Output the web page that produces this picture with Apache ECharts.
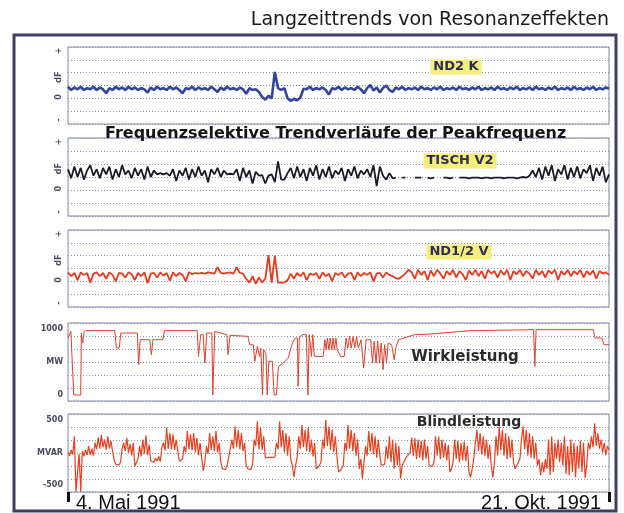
<!DOCTYPE html>
<html>
<head>
<meta charset="utf-8">
<script src="https://cdn.jsdelivr.net/npm/echarts@6/dist/echarts.min.js"></script>
<style>
  html, body { margin: 0; padding: 0; background: #ffffff; }
  #chart { width: 624px; height: 513px; }
</style>
</head>
<body>
<div id="chart"></div>
<script>
// Zeitachse: Tage ab 4. Mai 1991 (0) bis 21. Okt. 1991 (170)
var zeitMax = 170;
var datumLabels = ['4. Mai 1991', '21. Okt. 1991'];

// Peakfrequenz-Abweichung dF, ein Wert pro Tag (Skala -3 .. +3)
var nd2k = [
  -0.1,-0.35,-0.15,-0.3,-0.1,-0.35,-0.2,-0.3,-0.1,-0.35,
  -0.15,-0.3,-0.6,-0.2,-0.35,-0.1,-0.3,-0.15,-0.35,-0.1,
  -0.3,-0.15,-0.35,-0.2,-0.3,-0.55,-0.15,-0.35,-0.1,-0.3,
  -0.2,-0.35,-0.1,-0.3,-0.15,-0.35,-0.6,-0.2,-0.3,-0.1,
  -0.35,-0.15,-0.3,-0.2,-0.35,-0.1,-0.3,-0.5,-0.15,-0.35,
  -0.1,-0.3,-0.2,-0.35,-0.15,-0.3,-0.65,-0.2,-0.35,-0.3,
  -0.5,-0.9,-1.1,-0.8,-1.0,1.05,-0.2,-0.35,-0.2,-1.0,
  -1.2,-1.05,-1.15,-0.95,-0.25,-0.3,-0.1,-0.35,-0.2,-0.3,
  -0.15,-0.35,-0.7,-0.2,-0.3,-0.1,-0.35,-0.15,-0.3,-0.2,
  -0.35,-0.1,-0.3,-0.6,-0.2,0.05,-0.4,-0.15,-0.55,-0.2,
  0.0,-0.35,-0.5,-0.15,-0.3,-0.1,-0.35,-0.2,-0.3,-0.15,
  -0.35,-0.1,-0.3,-0.2,-0.35,-0.15,-0.3,-0.1,-0.35,-0.2,
  -0.3,-0.15,-0.35,-0.1,-0.3,-0.2,-0.35,-0.15,-0.3,-0.1,
  -0.35,-0.2,-0.3,-0.15,-0.35,-0.1,-0.3,-0.2,-0.35,-0.15,
  -0.3,-0.1,-0.35,-0.2,-0.3,-0.15,-0.35,-0.1,-0.3,-0.2,
  -0.35,-0.15,-0.3,-0.1,-0.35,-0.2,-0.3,-0.15,-0.35,-0.1,
  -0.3,-0.2,-0.35,-0.15,-0.3,-0.1,-0.35,-0.2,-0.3,-0.15,
  -0.25
];
var tischV2 = [
  0.6,-0.1,0.8,0.0,0.7,-0.2,0.5,0.9,0.1,0.6,
  -0.1,0.7,0.2,0.8,-0.2,0.6,0.0,0.9,0.2,0.5,
  -0.1,0.7,0.1,0.6,-0.2,0.8,0.0,0.5,0.2,0.3,
  0.2,0.3,0.1,0.6,-0.3,0.5,0.1,0.7,-0.2,0.6,
  0.0,0.8,0.1,0.5,-0.4,0.6,0.2,0.7,0.0,0.5,
  0.2,0.25,0.2,0.6,-0.3,0.7,0.0,0.5,-0.5,0.4,
  0.1,0.15,-0.5,0.1,0.2,-0.4,1.2,-0.2,-0.2,0.3,
  0.7,-0.1,0.8,0.0,0.6,-0.3,0.7,0.1,0.9,-0.2,
  0.6,0.0,0.8,-0.1,0.5,0.2,0.7,-0.3,0.6,0.1,
  0.8,-0.1,0.5,0.2,0.6,0.0,0.9,-0.7,0.8,0.1,
  -0.2,0.3,-0.1,-0.05,null,-0.05,-0.05,null,null,-0.05,
  -0.05,-0.05,null,-0.05,-0.1,-0.05,null,null,-0.05,-0.05,
  -0.1,-0.05,null,-0.05,-0.05,-0.05,-0.1,-0.05,-0.05,-0.05,
  -0.1,-0.05,-0.05,-0.1,-0.05,-0.05,-0.05,-0.1,-0.05,-0.05,
  -0.05,-0.1,-0.05,0.0,-0.05,0.1,0.5,0.0,0.7,-0.2,
  0.8,0.1,0.9,-0.3,0.6,0.2,0.9,-0.2,0.7,0.0,
  0.8,-0.1,0.6,0.3,0.9,-0.3,0.7,0.1,0.8,-0.4,
  0.2
];
var nd12v = [
  -0.3,-0.6,-0.35,-0.9,-0.3,-0.5,-0.35,-1.1,-0.4,-0.3,
  -0.6,-0.35,-0.8,-0.3,-0.5,-1.0,-0.35,-0.4,-0.7,-0.3,
  -0.45,-0.9,-0.35,-0.6,-0.3,-1.15,-0.4,-0.35,-0.7,-0.3,
  -0.55,-0.35,-0.95,-0.3,-0.6,-0.35,-0.5,-1.0,-0.3,-0.45,
  -0.35,-0.4,-0.35,-0.4,-0.3,-0.35,-0.4,0.1,-0.35,-0.4,
  -0.35,-0.3,-0.4,0.1,-0.35,-0.4,-0.8,-1.1,-0.6,-1.2,
  -0.7,-1.1,-0.8,1.05,-1.1,1.0,-1.1,-1.1,-1.1,-0.9,
  -0.4,-0.8,-0.35,-0.6,-0.3,-0.9,-0.4,-0.5,-0.35,-0.8,
  -0.3,-0.6,-0.4,-1.0,-0.35,-0.5,-0.3,-0.7,-0.4,-0.35,
  -0.9,-0.3,-0.6,-0.35,-0.5,-0.3,-1.0,-0.4,-0.35,-0.7,
  -0.3,-0.5,-0.6,-0.75,-0.8,-0.6,-0.4,-0.1,-0.3,-0.8,
  -0.1,-0.5,-0.2,-0.9,-0.15,-0.6,-0.1,-0.4,-0.8,-0.2,
  -0.5,-0.1,-0.7,-0.2,-0.45,-0.9,-0.15,-0.5,-0.1,-0.6,
  -0.2,-0.8,-0.1,-0.4,-0.2,-0.7,-0.15,-0.5,-0.1,-0.9,
  -0.2,-0.45,-0.1,-0.6,-0.2,-0.4,-0.8,-0.1,-0.5,-0.2,
  -0.7,-0.15,-0.4,-0.1,-0.9,-0.2,-0.5,-0.1,-0.6,-0.2,
  -0.45,-0.1,-0.7,-0.2,-0.5,-0.15,-0.8,-0.2,-0.4,-0.3,
  -0.5
];

// Wirkleistung in MW an Stuetzstellen (Tag)
var wirkTage = [0,0.9,1.5,1.8,4.0,4.2,4.6,5.1,5.8,14.7,15.2,16.1,16.6,21.8,22.2,22.7,25.7,26.2,26.7,29.8,
  30.3,40.6,41.0,41.7,42.5,43.0,43.6,45.2,45.5,46.1,49.9,50.3,50.9,56.5,57.1,58.2,58.7,59.5,60.2,60.6,
  61.1,61.5,62.2,62.6,63.1,64.2,64.8,65.5,66.1,67.6,69.2,70.5,71.4,72.1,72.3,72.7,73.6,74.9,75.4,75.8,
  76.5,76.9,77.4,77.8,80.2,80.7,81.1,81.5,82.0,82.4,82.9,83.3,83.7,84.2,84.6,85.7,86.8,87.4,87.9,88.5,
  89.0,89.6,90.1,90.7,91.2,92.1,92.9,93.7,95.1,95.7,96.2,96.8,97.3,97.9,98.4,99.0,99.5,100.1,100.6,101.7,
  102.5,103.1,103.9,108.9,113.8,119.9,126.5,146.3,146.7,147.1,165.1,165.6,167.8,168.4,170];
var wirkMW = [863,964,964,0,0,939,787,964,975,975,711,711,939,939,459,838,838,610,838,838,
  975,975,585,914,914,484,939,939,0,964,914,610,904,889,762,762,509,737,585,711,
  0,686,636,0,509,509,0,0,433,484,560,787,863,863,130,863,914,914,0,914,
  585,914,585,585,585,838,686,863,686,863,686,863,686,863,686,585,585,863,711,889,
  711,889,711,889,711,838,408,838,838,484,813,484,813,484,787,383,762,484,787,762,
  534,737,838,914,924,949,975,990,433,990,990,863,863,762,762];

// Blindleistung in MVAR, zwei Werte pro Tag
var blindMVAR = [
  0,-50,40,-30,250,-600,-600,-20,-600,20,
  -60,40,-40,100,-40,60,-50,150,50,230,
  60,270,80,200,40,250,60,180,20,-120,
  -180,-160,-190,-150,60,150,20,220,0,130,
  -40,150,-210,-180,-100,100,-60,200,-20,260,
  -40,120,-130,-100,-150,-90,-130,-60,-140,80,
  150,30,380,60,300,50,280,40,200,20,
  -130,-150,-100,100,0,330,50,280,30,300,
  0,220,-40,150,-80,-280,-150,100,-20,300,
  40,250,20,330,0,150,-140,-250,-230,-260,
  -200,-180,60,200,60,400,80,350,50,300,
  20,150,-200,-250,-220,-260,-180,200,100,480,
  50,380,40,250,-80,-70,-75,-75,-75,-75,
  -70,150,50,480,80,350,0,300,-50,250,
  -100,-200,-380,-200,-80,250,60,420,80,350,
  20,380,0,200,-60,150,-250,-280,-200,-150,
  200,60,500,100,400,40,350,0,250,-50,
  -300,-280,-250,-200,150,30,420,60,350,20,
  300,-50,200,-250,-100,-400,-150,100,-50,330,
  20,300,-30,250,-80,200,-50,-200,-220,-180,
  100,-100,250,-150,200,-250,150,-200,100,-400,
  -200,-150,-100,-60,-30,0,230,-50,220,-100,
  200,-80,180,-120,200,-100,100,-200,-180,-210,
  -150,250,-50,240,-100,200,-80,150,-120,120,
  -300,-250,-150,200,-100,180,-150,150,-120,170,
  -130,100,-300,-380,-250,-100,150,350,20,300,
  -30,250,-50,200,-100,120,-200,-380,-150,250,
  -50,400,30,350,-50,300,-100,250,-80,200,
  -150,-250,-200,-230,-100,200,400,50,350,-50,
  300,-80,250,-100,150,-200,-100,-350,-150,-300,
  -100,-250,200,-350,250,-300,150,-100,200,-150,
  150,-200,250,-330,100,-350,200,-300,150,-380,
  100,-250,180,-300,150,-390,-200,150,50,250,
  80,450,100,300,60,200,0,150,-40,100,40
];

// Beschriftungen der Achsen
var dfWerte = [2.7, 0.65, -0.9, -2.7];
var dfTexte = ['+', 'dF', '0', '-'];
var mwWerte = [1000, 500, 0];
var mwTexte = ['1000', 'MW', '0'];
var mvarWerte = [500, 0, -500];
var mvarTexte = ['500', 'MVAR', '-500'];
var kanalNamen = ['ND2 K', 'TISCH V2', 'ND1/2 V', 'Wirkleistung', 'Blindleistung'];

var chart = echarts.init(document.getElementById('chart'));

var panels = [
  { top: 47, height: 77, min: -3, max: 3, werte: dfWerte, texte: dfTexte, rot: 90 },
  { top: 138, height: 78, min: -3, max: 3, werte: dfWerte, texte: dfTexte, rot: 90 },
  { top: 230, height: 77, min: -3, max: 3, werte: dfWerte, texte: dfTexte, rot: 90 },
  { top: 323, height: 78, min: -91, max: 1091, werte: mwWerte, texte: mwTexte, rot: 0 },
  { top: 414, height: 79, min: -606, max: 591, werte: mvarWerte, texte: mvarTexte, rot: 0 }
];

var grids = [], xAxes = [], yAxes = [];
panels.forEach(function (p, g) {
  grids.push({
    left: 68, right: 15, top: p.top, height: p.height,
    show: true, borderColor: '#7d85a8', borderWidth: 1, backgroundColor: 'transparent'
  });
  var last = g === panels.length - 1;
  xAxes.push({
    type: 'value', gridIndex: g, min: 0, max: zeitMax, show: last, position: 'bottom',
    axisLine: { show: false, onZero: false },
    splitLine: { show: false },
    axisTick: last ? { show: true, customValues: [0, zeitMax], length: 10, lineStyle: { color: '#111', width: 3 } } : { show: false },
    axisLabel: last ? {
      customValues: [0, zeitMax],
      formatter: function (v) { return v === 0 ? datumLabels[0] : datumLabels[1]; },
      fontFamily: 'Liberation Sans', fontSize: 20, color: '#111',
      margin: 1, alignMinLabel: 'left', alignMaxLabel: 'right', padding: [0, 8, 0, 8]
    } : { show: false }
  });
  // Achse mit Daten und Beschriftung
  yAxes.push({
    type: 'value', gridIndex: g, min: p.min, max: p.max, position: 'left',
    axisLine: { show: false }, axisTick: { show: false }, splitLine: { show: false },
    axisLabel: {
      customValues: p.werte,
      formatter: function (v) { return p.texte[p.werte.indexOf(v)]; },
      rotate: p.rot, margin: 5,
      fontFamily: 'DejaVu Sans', fontSize: 8, fontWeight: 'bold', color: '#4a4c60'
    }
  });
  // Hilfsachse nur fuer die gepunkteten Gitterlinien
  yAxes.push({
    type: 'value', gridIndex: g, min: 0, max: 6, interval: 1, position: 'right',
    axisLine: { show: false }, axisTick: { show: false }, axisLabel: { show: false },
    splitLine: { show: true, lineStyle: { color: '#8a90ad', type: [1, 2], width: 1 } }
  });
});

function linie(data, g, color, width) {
  return {
    type: 'line', xAxisIndex: g, yAxisIndex: g * 2, data: data,
    showSymbol: false, silent: true, connectNulls: false,
    lineStyle: { color: color, width: width }
  };
}

var series = [
  linie(nd2k.map(function (v, i) { return [i, v]; }), 0, '#34439c', 2.6),
  linie(tischV2.map(function (v, i) { return [i, v]; }), 1, '#1b1b26', 1.8),
  linie(nd12v.map(function (v, i) { return [i, v]; }), 2, '#ea3a1e', 1.8),
  linie(wirkTage.map(function (t, i) { return [t, wirkMW[i]]; }), 3, '#e2402c', 1),
  linie(blindMVAR.map(function (v, i) { return [i / 2, v]; }), 4, '#e8401f', 1.2)
];

function kanalText(name, x, y, size, bg) {
  return {
    type: 'text', x: x, y: y, z: 100,
    style: {
      text: name, fill: bg ? '#2c2d55' : '#2a2a2a',
      font: 'bold ' + size + 'px "DejaVu Sans"',
      align: 'center', verticalAlign: 'middle',
      backgroundColor: bg ? '#f4ee7c' : null, padding: bg ? [1, 3, 1, 3] : 0
    }
  };
}

var option = {
  animation: false,
  backgroundColor: '#ffffff',
  title: [
    { text: 'Langzeittrends von Resonanzeffekten', right: 10, top: 6,
      textStyle: { fontFamily: 'DejaVu Sans', fontSize: 19, fontWeight: 'normal', color: '#1a1a1a' } },
    { text: 'Frequenzselektive Trendverläufe der Peakfrequenz', left: 100, top: 121,
      textStyle: { fontFamily: 'DejaVu Sans', fontSize: 16, fontWeight: 'bold', color: '#151515' } }
  ],
  grid: grids,
  xAxis: xAxes,
  yAxis: yAxes,
  series: series,
  graphic: [
    { type: 'rect', shape: { x: 14, y: 35, width: 602, height: 476 },
      style: { fill: 'none', stroke: '#3e3f5e', lineWidth: 3 }, z: 50 },
    kanalText(kanalNamen[0], 456, 67, 13, true),
    kanalText(kanalNamen[1], 460, 161, 13, true),
    kanalText(kanalNamen[2], 459, 252, 13, true),
    kanalText(kanalNamen[3], 465, 357, 15, false),
    kanalText(kanalNamen[4], 469, 422, 14, false)
  ]
};

chart.setOption(option);
</script>
</body>
</html>
